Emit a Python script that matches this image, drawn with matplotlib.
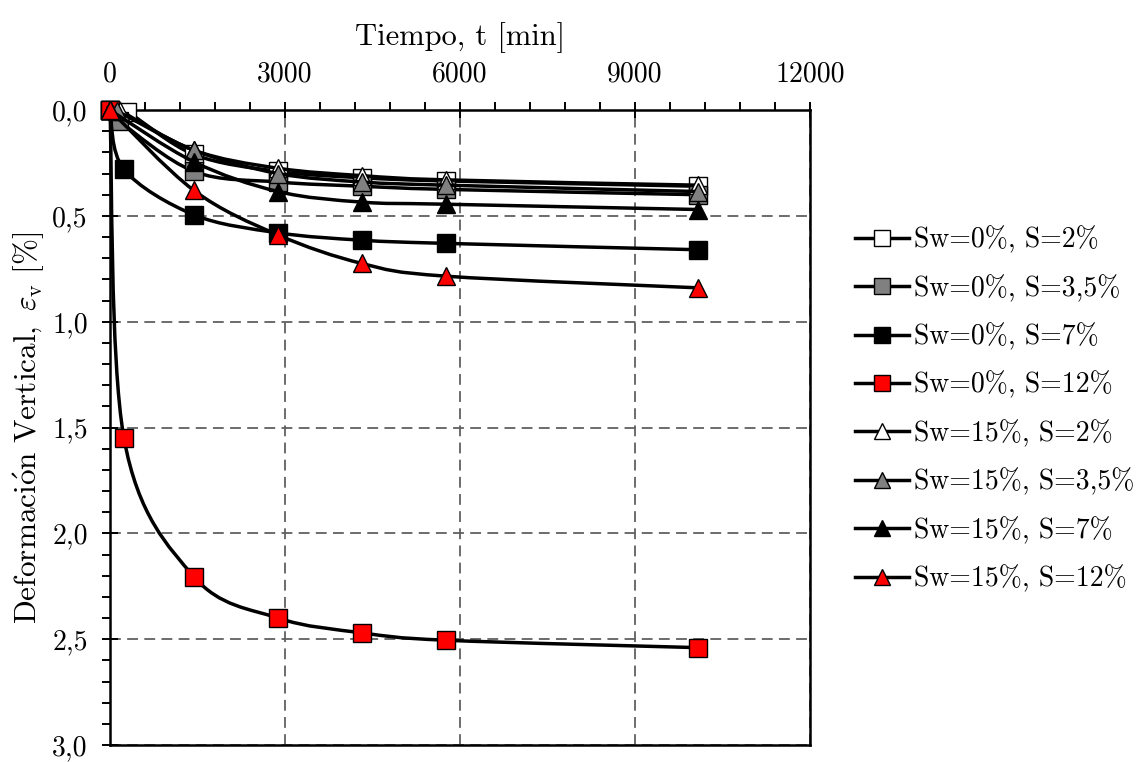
import numpy as np
import matplotlib.pyplot as plt
from matplotlib.path import Path
from matplotlib.patches import PathPatch
from matplotlib.ticker import MultipleLocator, FuncFormatter

plt.rcParams['font.family'] = ['cmr10']
plt.rcParams['mathtext.fontset'] = 'cm'
plt.rcParams['axes.formatter.use_mathtext'] = True

# datos: tiempo [min] y deformacion vertical [%]
t_sw0_s2 = [0, 300, 1440, 2880, 4320, 5760, 10080]
e_sw0_s2 = [0.0, 0.01, 0.21, 0.29, 0.32, 0.335, 0.36]

t_sw0_s35 = [0, 150, 1440, 2880, 4320, 5760, 10080]
e_sw0_s35 = [0.0, 0.05, 0.29, 0.34, 0.36, 0.375, 0.40]

t_sw0_s7 = [0, 240, 1440, 2880, 4320, 5760, 10080]
e_sw0_s7 = [0.0, 0.28, 0.495, 0.58, 0.615, 0.63, 0.66]

t_sw0_s12 = [0, 240, 1440, 2880, 4320, 5760, 10080]
e_sw0_s12 = [0.0, 1.55, 2.205, 2.40, 2.47, 2.505, 2.54]

t_sw15_s2 = [0, 180, 1440, 2880, 4320, 5760, 10080]
e_sw15_s2 = [0.0, 0.005, 0.19, 0.275, 0.31, 0.33, 0.355]

t_sw15_s35 = [0, 120, 1440, 2880, 4320, 5760, 10080]
e_sw15_s35 = [0.0, 0.005, 0.19, 0.30, 0.34, 0.355, 0.385]

t_sw15_s7 = [0, 1440, 2880, 4320, 5760, 10080]
e_sw15_s7 = [0.0, 0.245, 0.385, 0.435, 0.445, 0.47]

t_sw15_s12 = [0, 1440, 2880, 4320, 5760, 10080]
e_sw15_s12 = [0.0, 0.38, 0.59, 0.725, 0.785, 0.84]

series = [
    (t_sw0_s2, e_sw0_s2, 's', 'white', 'Sw=0%, S=2%'),
    (t_sw0_s35, e_sw0_s35, 's', 'gray', 'Sw=0%, S=3,5%'),
    (t_sw0_s7, e_sw0_s7, 's', 'black', 'Sw=0%, S=7%'),
    (t_sw0_s12, e_sw0_s12, 's', 'red', 'Sw=0%, S=12%'),
    (t_sw15_s2, e_sw15_s2, '^', 'white', 'Sw=15%, S=2%'),
    (t_sw15_s35, e_sw15_s35, '^', 'gray', 'Sw=15%, S=3,5%'),
    (t_sw15_s7, e_sw15_s7, '^', 'black', 'Sw=15%, S=7%'),
    (t_sw15_s12, e_sw15_s12, '^', 'red', 'Sw=15%, S=12%'),
]


# linea suavizada (tipo Excel) con curvas de Bezier entre los puntos
def smooth_path(x, y):
    p = np.column_stack([x, y]).astype(float)
    n = len(p)
    verts = [p[0]]
    codes = [Path.MOVETO]
    for i in range(n - 1):
        p0 = p[max(i - 1, 0)]
        p1 = p[i]
        p2 = p[i + 1]
        p3 = p[min(i + 2, n - 1)]
        c1 = p1 + (p2 - p0) / 6
        c2 = p2 - (p3 - p1) / 6
        verts += [c1, c2, p2]
        codes += [Path.CURVE4] * 3
    return Path(verts, codes)


fig = plt.figure(figsize=(11.37, 7.62), dpi=100)
ax = fig.add_axes([0.0967, 0.0223, 0.6157, 0.8333])

handles = []
for i, (t, e, mk, col, lab) in enumerate(series):
    ax.add_patch(PathPatch(smooth_path(t, e), fill=False, edgecolor='black',
                           lw=2.5, zorder=3 + i, clip_on=False))
    ax.plot(t, e, ls='none', marker=mk, ms=13, mfc=col, mec='black',
            mew=1.0, zorder=3 + i, clip_on=False)
    handles.append(plt.Line2D([], [], color='black', lw=2.5, marker=mk, ms=11,
                              mfc=col, mec='black', mew=1.0, label=lab))

ax.set_xlim(0, 12000)
ax.set_ylim(3.0, 0.0)
ax.xaxis.tick_top()
ax.xaxis.set_label_position('top')
ax.xaxis.set_major_locator(MultipleLocator(3000))
ax.xaxis.set_minor_locator(MultipleLocator(600))
ax.yaxis.set_major_locator(MultipleLocator(0.5))
ax.yaxis.set_minor_locator(MultipleLocator(0.1))
ax.yaxis.set_major_formatter(FuncFormatter(lambda v, p: f'{v:.1f}'.replace('.', ',')))
ax.xaxis.set_major_formatter(FuncFormatter(lambda v, p: f'{v:.0f}'))

ax.tick_params(which='major', direction='inout', length=12, width=1.4,
               labelsize=20, pad=10)
ax.tick_params(which='minor', direction='out', length=6, width=1.4)
ax.tick_params(axis='x', which='both', top=True, bottom=False)
ax.tick_params(axis='y', which='both', left=True, right=False)

ax.grid(True, which='major', ls=(0, (6, 3.5)), color='#606060', lw=1.3)
ax.set_axisbelow(True)
for s in ax.spines.values():
    s.set_linewidth(1.8)

ax.set_xlabel('Tiempo, t [min]', fontsize=22, labelpad=12)
ax.set_ylabel(r'$\mathrm{Deformaci\acute{o}n\ Vertical,\ }\boldsymbol{\varepsilon}_{\mathrm{v}}\ [\%]$',
              fontsize=22.5, labelpad=4)

fig.legend(handles=handles, loc='center left', bbox_to_anchor=(0.740, 0.463),
           frameon=False, fontsize=20, handlelength=1.95, handletextpad=0.15,
           labelspacing=0.75, borderpad=0)

fig.savefig('out.png', dpi=100)
